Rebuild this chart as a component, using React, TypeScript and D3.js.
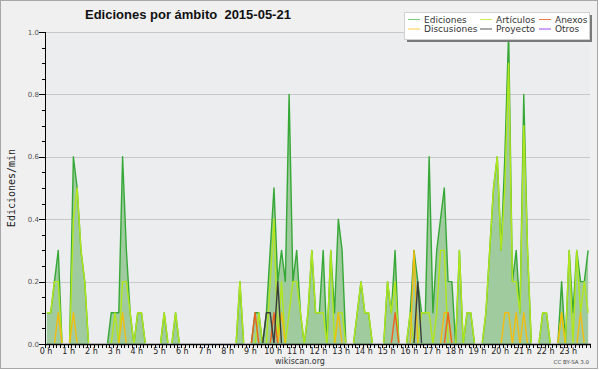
import * as d3 from "d3";

const TITLE = "Ediciones por ámbito  2015-05-21";
const Y_LABEL = "Ediciones/min";
const HOUR_LABELS = [
  "0 h", "1 h", "2 h", "3 h", "4 h", "5 h", "6 h", "7 h", "8 h", "9 h", "10 h", "11 h",
  "12 h", "13 h", "14 h", "15 h", "16 h", "17 h", "18 h", "19 h", "20 h", "21 h", "22 h", "23 h",
];
const Y_TICKS = [0, 0.2, 0.4, 0.6, 0.8, 1.0];
const Y_TICK_LABELS = ["0.0", "0.2", "0.4", "0.6", "0.8", "1.0"];

// edits per minute, one value per 10-minute bin (6 per hour, 4 hours per line)
const ediciones = [
  0.1, 0.1, 0.2, 0.3, 0, 0, 0, 0.6, 0.5, 0.3, 0.2, 0, 0, 0, 0, 0, 0, 0.1, 0.1, 0.1, 0.6, 0.3, 0.1, 0,
  0.1, 0.1, 0, 0, 0, 0, 0, 0.1, 0, 0, 0.1, 0, 0, 0, 0, 0, 0, 0, 0, 0, 0, 0, 0, 0,
  0, 0, 0, 0.2, 0, 0, 0, 0.1, 0.1, 0, 0.1, 0.3, 0.5, 0.2, 0.3, 0.2, 0.8, 0.2, 0.3, 0.1, 0, 0.1, 0.3, 0.1,
  0.1, 0.3, 0, 0.3, 0.1, 0.4, 0.3, 0, 0, 0, 0.1, 0.2, 0.1, 0.1, 0, 0, 0, 0, 0.2, 0.1, 0.3, 0, 0, 0,
  0.1, 0.3, 0.2, 0.1, 0.1, 0.6, 0.1, 0.3, 0.4, 0.5, 0.2, 0.2, 0, 0.3, 0, 0.1, 0.1, 0, 0, 0, 0.1, 0.3, 0.5, 0.6,
  0.3, 0.6, 1.0, 0.2, 0.3, 0.1, 0.8, 0.3, 0, 0, 0, 0.1, 0.1, 0, 0, 0, 0.2, 0, 0.3, 0.1, 0.3, 0.2, 0.2, 0.3,
];
const articulos = [
  0.1, 0.1, 0.2, 0.2, 0, 0, 0, 0.4, 0.5, 0.3, 0.2, 0, 0, 0, 0, 0, 0, 0, 0.1, 0, 0.2, 0.2, 0.1, 0,
  0.1, 0.1, 0, 0, 0, 0, 0, 0.1, 0, 0, 0.1, 0, 0, 0, 0, 0, 0, 0, 0, 0, 0, 0, 0, 0,
  0, 0, 0, 0.2, 0, 0, 0, 0, 0.1, 0, 0, 0.2, 0.4, 0, 0.2, 0, 0.1, 0.2, 0.2, 0.1, 0, 0.1, 0.3, 0.1,
  0.1, 0.1, 0, 0.3, 0, 0.1, 0.1, 0, 0, 0, 0.1, 0.2, 0.1, 0.1, 0, 0, 0, 0, 0.2, 0.1, 0.2, 0, 0, 0,
  0.1, 0, 0, 0.1, 0.1, 0.1, 0, 0.1, 0.3, 0.3, 0, 0, 0, 0.3, 0, 0.1, 0.1, 0, 0, 0, 0.1, 0.3, 0.5, 0.6,
  0.3, 0.5, 0.9, 0.2, 0.2, 0.1, 0.7, 0.3, 0, 0, 0, 0.1, 0.1, 0, 0, 0, 0.1, 0, 0.3, 0, 0.3, 0.1, 0.2, 0.1,
];
const discusiones = [
  0, 0, 0, 0.1, 0, 0, 0, 0.1, 0, 0, 0, 0, 0, 0, 0, 0, 0, 0, 0, 0, 0.1, 0, 0, 0,
  0, 0, 0, 0, 0, 0, 0, 0, 0, 0, 0, 0, 0, 0, 0, 0, 0, 0, 0, 0, 0, 0, 0, 0,
  0, 0, 0, 0, 0, 0, 0, 0, 0, 0, 0, 0, 0, 0, 0.1, 0, 0, 0, 0, 0, 0, 0, 0, 0,
  0, 0, 0, 0, 0, 0.1, 0, 0, 0, 0, 0, 0, 0, 0, 0, 0, 0, 0, 0, 0, 0, 0, 0, 0,
  0, 0.3, 0, 0, 0, 0, 0, 0, 0, 0.1, 0.1, 0, 0, 0, 0, 0, 0, 0, 0, 0, 0, 0, 0, 0,
  0, 0.1, 0.1, 0, 0.1, 0, 0.1, 0, 0, 0, 0, 0, 0, 0, 0, 0, 0.1, 0, 0, 0, 0, 0.1, 0, 0,
];
const anexos = [
  0, 0, 0, 0, 0, 0, 0, 0, 0, 0, 0, 0, 0, 0, 0, 0, 0, 0, 0, 0, 0, 0, 0, 0,
  0, 0, 0, 0, 0, 0, 0, 0, 0, 0, 0, 0, 0, 0, 0, 0, 0, 0, 0, 0, 0, 0, 0, 0,
  0, 0, 0, 0, 0, 0, 0, 0.1, 0, 0, 0, 0, 0.1, 0, 0, 0, 0, 0, 0, 0, 0, 0, 0, 0,
  0, 0, 0, 0, 0, 0, 0, 0, 0, 0, 0, 0, 0, 0, 0, 0, 0, 0, 0, 0, 0.1, 0, 0, 0,
  0, 0, 0, 0, 0, 0, 0, 0, 0, 0, 0.1, 0, 0, 0, 0, 0, 0, 0, 0, 0, 0, 0, 0, 0,
  0, 0, 0, 0, 0, 0, 0, 0, 0, 0, 0, 0, 0, 0, 0, 0, 0, 0, 0, 0, 0, 0, 0, 0,
];
const proyecto = [
  0, 0, 0, 0, 0, 0, 0, 0, 0, 0, 0, 0, 0, 0, 0, 0, 0, 0, 0, 0, 0, 0, 0, 0,
  0, 0, 0, 0, 0, 0, 0, 0, 0, 0, 0, 0, 0, 0, 0, 0, 0, 0, 0, 0, 0, 0, 0, 0,
  0, 0, 0, 0, 0, 0, 0, 0, 0, 0, 0.1, 0.1, 0, 0.2, 0, 0, 0, 0, 0, 0, 0, 0, 0, 0,
  0, 0, 0, 0, 0, 0, 0, 0, 0, 0, 0, 0, 0, 0, 0, 0, 0, 0, 0, 0, 0, 0, 0, 0,
  0, 0, 0.2, 0, 0, 0, 0, 0, 0, 0, 0, 0, 0, 0, 0, 0, 0, 0, 0, 0, 0, 0, 0, 0,
  0, 0, 0, 0, 0, 0, 0, 0, 0, 0, 0, 0, 0, 0, 0, 0, 0, 0, 0, 0, 0, 0, 0, 0,
];
const otros = [
  0, 0, 0, 0, 0, 0, 0, 0, 0, 0, 0, 0, 0, 0, 0, 0, 0, 0, 0, 0, 0, 0, 0, 0,
  0, 0, 0, 0, 0, 0, 0, 0, 0, 0, 0, 0, 0, 0, 0, 0, 0, 0, 0, 0, 0, 0, 0, 0,
  0, 0, 0, 0, 0, 0, 0, 0, 0, 0, 0, 0, 0, 0, 0, 0, 0, 0, 0, 0, 0, 0, 0, 0,
  0, 0, 0, 0, 0, 0, 0, 0, 0, 0, 0, 0, 0, 0, 0, 0, 0, 0, 0, 0, 0, 0, 0, 0,
  0, 0, 0, 0, 0, 0, 0, 0, 0, 0, 0, 0, 0, 0, 0, 0, 0, 0, 0, 0, 0, 0, 0, 0,
  0, 0, 0, 0, 0, 0, 0, 0, 0, 0, 0, 0, 0, 0, 0, 0, 0, 0, 0, 0, 0, 0, 0, 0,
];

const W = 600;
const H = 370;
const left = 45, right = 590, top = 32, bottom = 344;

const x = d3.scaleLinear().domain([0, 1440]).range([left, right]);
const y = d3.scaleLinear().domain([0, 1]).range([bottom, top]);

// draw order: later ones on top
const lines = [
  { name: "Artículos", values: articulos, color: "#b2e61c" },
  { name: "Discusiones", values: discusiones, color: "#f2bc10" },
  { name: "Anexos", values: anexos, color: "#ec621e" },
  { name: "Proyecto", values: proyecto, color: "#3c3c3c" },
  { name: "Otros", values: otros, color: "#9a40f0" },
];

const legend = [
  { name: "Ediciones", color: "#7ccc7c" },
  { name: "Artículos", color: "#c8ee50" },
  { name: "Anexos", color: "#ee7a48" },
  { name: "Discusiones", color: "#ffcc48" },
  { name: "Proyecto", color: "#555555" },
  { name: "Otros", color: "#9a48ee" },
];

const binX = (i: number) => x(i * 10 + 5);

const line = d3
  .line<number>()
  .x((_, i) => binX(i))
  .y((d) => y(d));

const area = d3
  .area<number>()
  .x((_, i) => binX(i))
  .y0(bottom)
  .y1((d) => y(d));

export default function App() {
  const minorY = d3.range(0, 1.0001, 0.05);
  const minorX = d3.range(0, 1441, 10);
  return (
    <svg
      width={W}
      height={H}
      style={{ position: "absolute", left: 0, top: 0, display: "block" }}
      fontFamily="DejaVu Sans"
    >
      <defs>
        <clipPath id="plotclip">
          <rect x={left} y={top - 4} width={right - left + 2} height={bottom - top + 3} />
        </clipPath>
      </defs>
      <rect x={0.5} y={0.5} width={W - 3} height={H - 2} fill="#f0f0f0" stroke="#a8a8a8" />
      <rect x={left} y={top} width={right - left} height={bottom - top} fill="#ebedef" />

      {Y_TICKS.slice(1).map((t) => (
        <line
          key={t}
          x1={left}
          x2={right}
          y1={Math.round(y(t)) + 0.5}
          y2={Math.round(y(t)) + 0.5}
          stroke="#c8c8c8"
        />
      ))}

      <path d={area(ediciones) || ""} fill="#9fcb9f" />
      <g clipPath="url(#plotclip)" fill="none" strokeLinejoin="round">
        <path d={line(ediciones) || ""} stroke="#36a836" strokeWidth={1.4} />
        {lines.map((s) => (
          <path key={s.name} d={line(s.values) || ""} stroke={s.color} strokeWidth={1.4} />
        ))}
      </g>

      {/* y axis */}
      <line x1={left + 0.5} x2={left + 0.5} y1={top} y2={bottom + 1} stroke="#000" />
      {minorY.map((t, i) => (
        <line
          key={i}
          x1={left - (i % 4 === 0 ? 6 : 3)}
          x2={left}
          y1={Math.round(y(t)) + 0.5}
          y2={Math.round(y(t)) + 0.5}
          stroke="#000"
        />
      ))}
      {Y_TICKS.map((t, i) => (
        <text key={t} x={39} y={y(t) + 2.5} fontSize={7} textAnchor="end" fill="#555">
          {Y_TICK_LABELS[i]}
        </text>
      ))}

      {/* x axis */}
      <line x1={left} x2={right + 1} y1={bottom + 0.5} y2={bottom + 0.5} stroke="#000" strokeWidth={1.5} />
      {minorX.map((m) => (
        <line
          key={m}
          x1={Math.round(x(m)) + 0.5}
          x2={Math.round(x(m)) + 0.5}
          y1={bottom}
          y2={bottom + 4}
          stroke="#000"
        />
      ))}
      {HOUR_LABELS.map((lab, h) => (
        <text key={lab} x={x(h * 60) + 1} y={354} fontSize={8} textAnchor="middle" fill="#222">
          {lab}
        </text>
      ))}

      <text x={85} y={18.5} fontFamily="Liberation Sans" fontWeight="bold" fontSize={13} fill="#111" style={{ whiteSpace: "pre" }}>
        {TITLE}
      </text>

      <text
        transform={`translate(15,${(top + bottom) / 2}) rotate(-90)`}
        textAnchor="middle"
        fontFamily="DejaVu Sans Mono"
        fontSize={10}
        fill="#222"
      >
        {Y_LABEL}
      </text>

      {/* legend */}
      <rect x={407} y={15} width={185} height={27} fill="#7a7a7a" />
      <rect x={404.5} y={12.5} width={185} height={27} fill="#fff" stroke="#d0d0d0" />
      {legend.map((l, i) => {
        const col = i % 3;
        const row = Math.floor(i / 3);
        const sx = [408, 480, 539][col];
        const tx = [424, 496, 555][col];
        const ly = 19.5 + row * 9.5;
        return (
          <g key={l.name}>
            <line x1={sx} x2={sx + 12} y1={ly} y2={ly} stroke={l.color} strokeWidth={1} />
            <text x={tx} y={ly + 3} fontSize={9} fill="#333">
              {l.name}
            </text>
          </g>
        );
      })}

      <text x={300} y={364} fontSize={8} textAnchor="middle" fill="#333">
        wikiscan.org
      </text>
      <text x={589} y={364} fontSize={5.5} textAnchor="end" fill="#444">
        CC BY-SA 3.0
      </text>
    </svg>
  );
}
